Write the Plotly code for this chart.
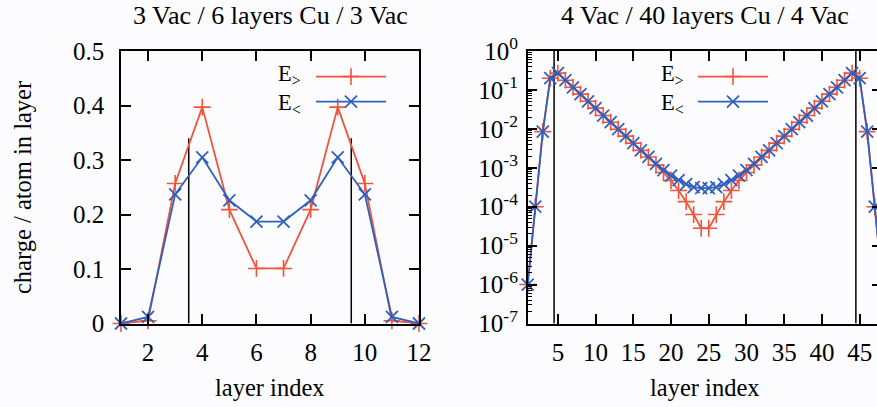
import plotly.graph_objects as go

# ---------------------------------------------------------------
# Thin slab: 3 vacuum layers / 6 Cu layers / 3 vacuum layers
# ---------------------------------------------------------------
layers_thin = list(range(1, 13))
e_gt_thin = [0.0, 0.005, 0.257, 0.397, 0.209, 0.101, 0.101, 0.209, 0.397, 0.257, 0.005, 0.0]
e_lt_thin = [0.0, 0.012, 0.237, 0.305, 0.226, 0.187, 0.187, 0.226, 0.305, 0.237, 0.012, 0.0]
surfaces_thin = [3.5, 9.5]          # vacuum / metal interfaces
surface_top_thin = 0.34             # height of the interface markers

# ---------------------------------------------------------------
# Thick slab: 4 vacuum layers / 40 Cu layers / 4 vacuum layers
# ---------------------------------------------------------------
layers_thick = list(range(1, 49))
e_gt_thick = [
    1.0e-6, 1.0e-4, 8.5e-3, 0.20, 0.27, 0.178, 0.117, 0.078, 0.051, 0.034,
    0.022, 0.0148, 0.0098, 0.0065, 0.0043, 0.0028, 0.0019, 1.17e-3, 7.6e-4, 4.7e-4,
    2.6e-4, 1.35e-4, 6.3e-5, 2.8e-5, 2.8e-5, 6.3e-5, 1.35e-4, 2.6e-4, 4.7e-4, 7.6e-4,
    1.17e-3, 0.0019, 0.0028, 0.0043, 0.0065, 0.0098, 0.0148, 0.022, 0.034, 0.051,
    0.078, 0.117, 0.178, 0.27, 0.20, 8.5e-3, 1.0e-4, 1.0e-6,
]
e_lt_thick = [
    1.0e-6, 1.0e-4, 8.5e-3, 0.20, 0.27, 0.178, 0.117, 0.078, 0.051, 0.034,
    0.022, 0.0148, 0.0098, 0.0065, 0.0043, 0.0028, 0.0019, 1.26e-3, 8.7e-4, 6.3e-4,
    4.8e-4, 3.8e-4, 3.2e-4, 3.0e-4, 3.0e-4, 3.2e-4, 3.8e-4, 4.8e-4, 6.3e-4, 8.7e-4,
    1.26e-3, 0.0019, 0.0028, 0.0043, 0.0065, 0.0098, 0.0148, 0.022, 0.034, 0.051,
    0.078, 0.117, 0.178, 0.27, 0.20, 8.5e-3, 1.0e-4, 1.0e-6,
]
surfaces_thick = [4.5, 44.5]

# Tick positions and labels
x_ticks_thin = [2, 4, 6, 8, 10, 12]
y_ticks_thin = [0, 0.1, 0.2, 0.3, 0.4, 0.5]
x_ticks_thick = [5, 10, 15, 20, 25, 30, 35, 40, 45]
y_exponents_thick = [0, -1, -2, -3, -4, -5, -6, -7]
y_ticktext_thick = ["10<sup>0</sup>", "10<sup>-1</sup>", "10<sup>-2</sup>", "10<sup>-3</sup>",
                    "10<sup>-4</sup>", "10<sup>-5</sup>", "10<sup>-6</sup>", "10<sup>-7</sup>"]

titles = ["3 Vac / 6 layers Cu / 3 Vac", "4 Vac / 40 layers Cu / 4 Vac"]
series_labels = ["E<sub>&gt;</sub>", "E<sub>&lt;</sub>"]

# ---------------------------------------------------------------
# Styling
# ---------------------------------------------------------------
W, H = 877, 407
FONT = "Liberation Serif"
RED = "#f0553c"
BLUE = "#2f60bd"
BG = "#fcfcfe"


def px(xp):
    return xp / W


def py(yp):
    return 1 - yp / H


def vlines(xs, y0, y1):
    vx, vy = [], []
    for b in xs:
        vx += [b, b, None]
        vy += [y0, y1, None]
    return vx, vy


fig = go.Figure()

# interface markers
vx, vy = vlines(surfaces_thin, 0, surface_top_thin)
fig.add_trace(go.Scatter(x=vx, y=vy, mode="lines", line=dict(color="black", width=1.5),
                         showlegend=False, hoverinfo="skip", xaxis="x", yaxis="y"))
vx, vy = vlines(surfaces_thick, 10.0 ** min(y_exponents_thick), 10.0 ** max(y_exponents_thick))
fig.add_trace(go.Scatter(x=vx, y=vy, mode="lines", line=dict(color="black", width=1.5),
                         showlegend=False, hoverinfo="skip", xaxis="x2", yaxis="y2"))

panels = [
    (layers_thin, e_gt_thin, e_lt_thin, "x", "y", "legend"),
    (layers_thick, e_gt_thick, e_lt_thick, "x2", "y2", "legend2"),
]
for xs, gt, lt, xa, ya, leg in panels:
    fig.add_trace(go.Scatter(
        x=xs, y=gt, mode="lines+markers", name="", legend=leg, xaxis=xa, yaxis=ya,
        line=dict(color=RED, width=1.8), cliponaxis=False,
        marker=dict(symbol="cross-thin", size=12, color=RED, line=dict(color=RED, width=1.6)),
    ))
    fig.add_trace(go.Scatter(
        x=xs, y=lt, mode="lines+markers", name="", legend=leg, xaxis=xa, yaxis=ya,
        line=dict(color=BLUE, width=1.8), cliponaxis=False,
        marker=dict(symbol="x-thin", size=12, color=BLUE, line=dict(color=BLUE, width=1.8)),
    ))

tickfont = dict(family=FONT, size=25, color="black")
common = dict(showline=True, linecolor="black", linewidth=1.5, ticks="inside",
              tickcolor="black", tickwidth=1.5, ticklen=10, showgrid=False,
              zeroline=False, tickfont=tickfont, automargin=False)

y_top, y_bot = 51, 323.5
x_range_thick = [1, 47.3]

fig.update_layout(
    template="none",
    width=W, height=H, margin=dict(l=0, r=0, t=0, b=0, pad=0, autoexpand=False),
    paper_bgcolor=BG, plot_bgcolor=BG, showlegend=True,
    xaxis=dict(domain=[px(121), px(419)], range=[1, 12], tickmode="array",
               tickvals=x_ticks_thin, mirror="ticks", anchor="y",
               ticklabelstandoff=6, **common),
    yaxis=dict(domain=[py(y_bot), py(y_top)], range=[0, 0.5], tickmode="array",
               tickvals=y_ticks_thin, mirror="ticks", anchor="x",
               ticklabelstandoff=10, **common),
    xaxis2=dict(domain=[px(527.7), 1.0], range=x_range_thick, tickmode="array",
                tickvals=x_ticks_thick, mirror="ticks", anchor="y2",
                ticklabelstandoff=6, **common),
    yaxis2=dict(domain=[py(y_bot), py(y_top)], type="log",
                range=[min(y_exponents_thick), max(y_exponents_thick)],
                tickmode="array", tickvals=[10.0 ** e for e in y_exponents_thick],
                ticktext=y_ticktext_thick, mirror=False, anchor="x2",
                ticklabelstandoff=3,
                minor=dict(ticks="inside", ticklen=5, tickcolor="black", tickwidth=1.2,
                           dtick="D1", showgrid=False),
                **common),
    yaxis3=dict(domain=[py(y_bot), py(y_top)], type="log", overlaying="y2", side="right",
                anchor="x2", range=[min(y_exponents_thick), max(y_exponents_thick)],
                tickmode="array", tickvals=[10.0 ** e for e in y_exponents_thick],
                showticklabels=False, ticks="inside", ticklen=5, tickwidth=1.5,
                tickcolor="black", showline=False, showgrid=False, zeroline=False,
                automargin=False),
    legend=dict(x=px(311), y=py(59), xanchor="left", yanchor="top",
                bgcolor="rgba(0,0,0,0)", itemwidth=70, tracegroupgap=0,
                font=dict(family=FONT, size=17)),
    legend2=dict(x=px(693), y=py(59), xanchor="left", yanchor="top",
                 bgcolor="rgba(0,0,0,0)", itemwidth=70, tracegroupgap=0,
                 font=dict(family=FONT, size=17)),
)

# a dummy trace keeps the right-hand tick axis alive
fig.add_trace(go.Scatter(x=[None], y=[None], xaxis="x2", yaxis="y3",
                         showlegend=False, hoverinfo="skip"))

ann = []
centers = [(1 + 12) / 2, (x_range_thick[0] + layers_thick[-1]) / 2]
for title, xc, xr in zip(titles, centers, ["x", "x2"]):
    ann.append(dict(text=title, xref=xr, x=xc, yref="paper", y=py(15),
                    xanchor="center", yanchor="middle", showarrow=False,
                    font=dict(family=FONT, size=26, color="black")))
    ann.append(dict(text="layer index", xref=xr, x=xc, yref="paper", y=py(387),
                    xanchor="center", yanchor="middle", showarrow=False,
                    font=dict(family=FONT, size=24.5, color="black")))
ann.append(dict(text="charge / atom in layer", xref="paper", x=px(22), yref="paper",
                y=py(188), textangle=-90, xanchor="center", yanchor="middle",
                showarrow=False, font=dict(family=FONT, size=24.5, color="black")))

# legend labels, stacked to the left of the key lines
legend_text = "<br>".join(series_labels)
for x_right in (303, 686):
    ann.append(dict(text=legend_text, xref="paper", x=px(x_right), yref="paper", y=py(90),
                    xanchor="right", yanchor="middle", align="right", showarrow=False,
                    font=dict(family=FONT, size=22.5, color="black")))
fig.update_layout(annotations=ann)

fig.write_html("out.html")
